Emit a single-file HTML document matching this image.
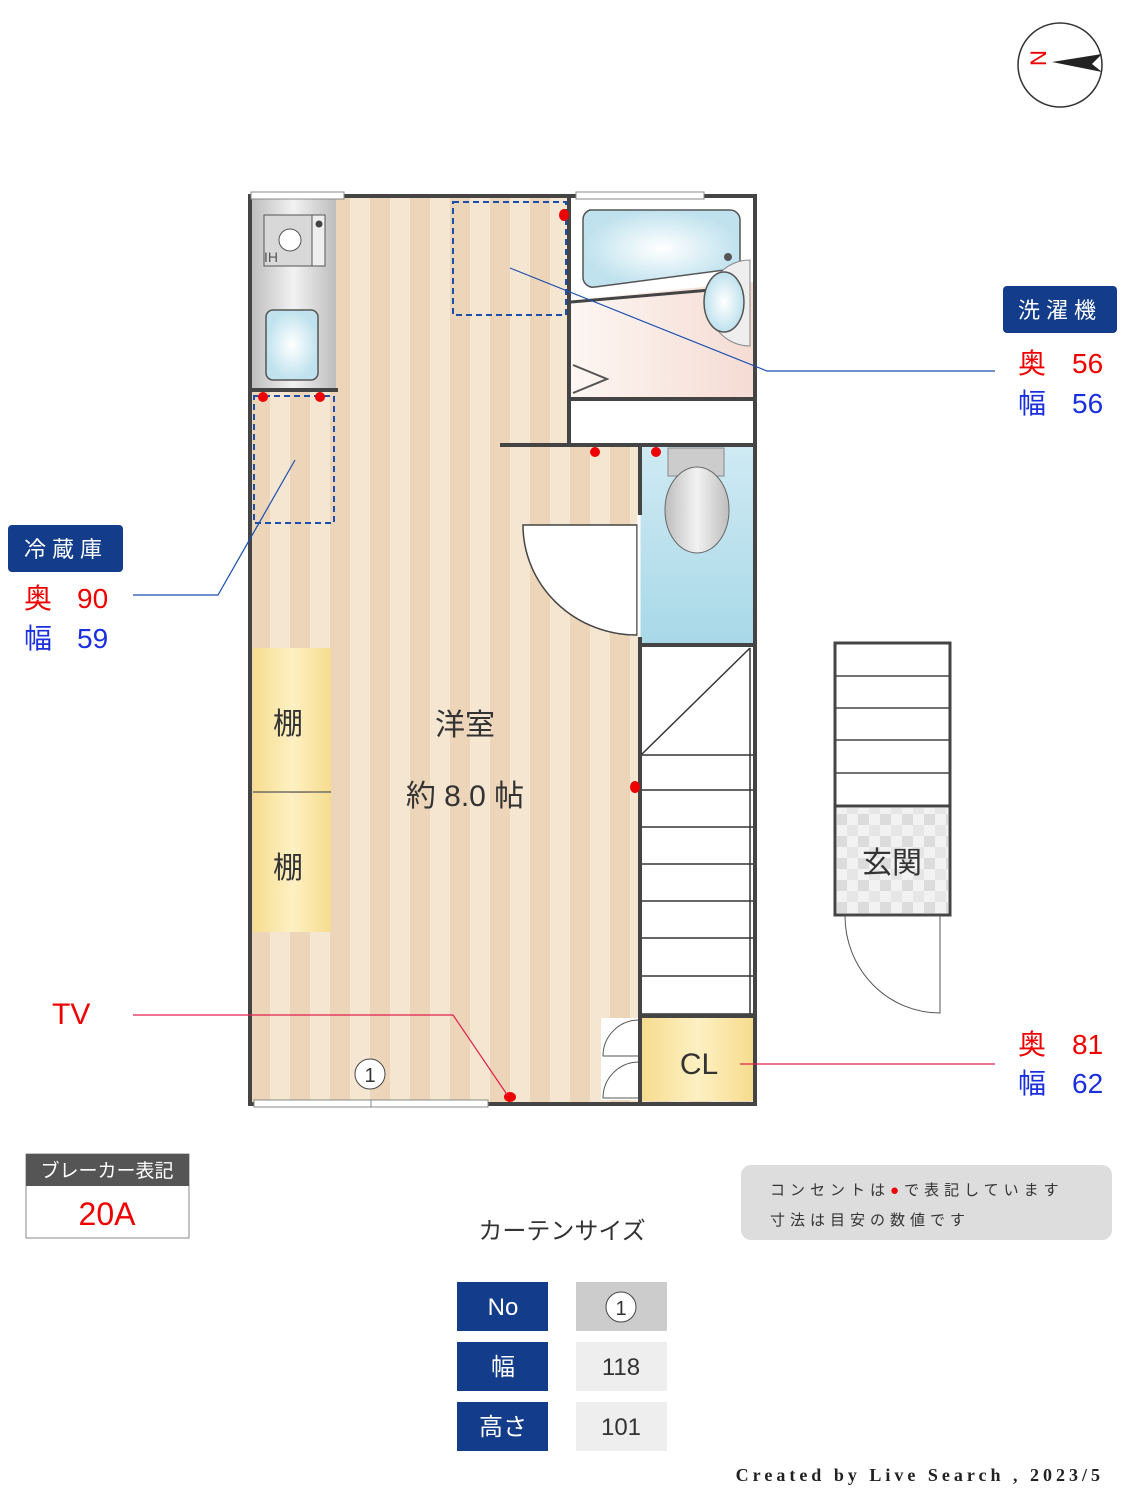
<!DOCTYPE html>
<html><head><meta charset="utf-8"><style>
body{margin:0;background:#fff;}
svg text{font-family:"Liberation Sans","Noto Sans CJK JP",sans-serif;}
</style></head><body>
<svg width="1125" height="1500" viewBox="0 0 1125 1500" xmlns="http://www.w3.org/2000/svg">
<defs>
<pattern id="st" x="10" y="0" width="40" height="10" patternUnits="userSpaceOnUse">
<rect width="40" height="10" fill="#f4e6d0"/><rect x="0" width="20" height="10" fill="#ecd5b8"/>
</pattern>
<linearGradient id="steel" x1="0" x2="1"><stop offset="0" stop-color="#bdbdbd"/><stop offset="0.5" stop-color="#f2f2f2"/><stop offset="1" stop-color="#bdbdbd"/></linearGradient>
<radialGradient id="blue"><stop offset="0" stop-color="#ffffff"/><stop offset="1" stop-color="#bfe2ee"/></radialGradient>
<linearGradient id="yel" x1="0" x2="1"><stop offset="0" stop-color="#f6dc8e"/><stop offset="0.5" stop-color="#fdf0c2"/><stop offset="1" stop-color="#f6dc8e"/></linearGradient>
<linearGradient id="pink" x1="0" x2="1"><stop offset="0" stop-color="#fdf6f2"/><stop offset="1" stop-color="#f5dcd4"/></linearGradient>
<linearGradient id="wc" x1="0" x2="0" y1="0" y2="1"><stop offset="0" stop-color="#cfeaf3"/><stop offset="1" stop-color="#a8d8e8"/></linearGradient>
<pattern id="tile" width="22" height="22" patternUnits="userSpaceOnUse"><rect width="22" height="22" fill="#f2f2f2"/><rect width="11" height="11" fill="#dcdcdc"/><rect x="11" y="11" width="11" height="11" fill="#e6e6e6"/></pattern>
</defs>

<!-- compass -->
<circle cx="1060" cy="65" r="42" fill="#fff" stroke="#333" stroke-width="1.5"/>
<polygon points="1052,62 1102,54 1092,64 1102,72" fill="#222"/>
<text x="1038" y="74" font-size="22" fill="#e00" transform="rotate(-90 1038 66)">N</text>

<!-- floor -->
<rect x="250" y="196" width="505" height="908" fill="url(#st)"/>
<!-- kitchen -->
<rect x="251" y="198" width="85" height="192" fill="url(#steel)"/>
<rect x="264" y="215" width="50" height="51" fill="#d8d8d8" stroke="#555"/>
<rect x="312" y="215" width="13" height="51" fill="#eee" stroke="#555"/>
<circle cx="319" cy="224" r="3.5" fill="#444"/>
<circle cx="290" cy="240" r="11" fill="#fff" stroke="#555"/>
<text x="264" y="262" font-size="14" fill="#555" font-family="Liberation Serif">IH</text>
<rect x="266" y="310" width="52" height="70" rx="7" fill="url(#blue)" stroke="#555" stroke-width="1.5"/>
<!-- bathroom -->
<rect x="571" y="198" width="182" height="200" fill="#fff"/>
<polygon points="571,300 753,282 753,398 571,398" fill="url(#pink)"/>
<path d="M590,210 H730 a10,10 0 0 1 10,10 V268 L595,287 a10,10 0 0 1 -12,-10 V220 a10,10 0 0 1 7,-10z" fill="url(#blue)" stroke="#555" stroke-width="1.5"/>
<circle cx="728" cy="257" r="4" fill="#555"/>
<line x1="571" y1="302" x2="745" y2="287" stroke="#444" stroke-width="3"/>
<path d="M750,260 a42,43 0 0 0 0,86 z" fill="#eee" stroke="#888"/>
<ellipse cx="724" cy="302" rx="20" ry="30" fill="url(#blue)" stroke="#555" stroke-width="1.5"/>
<polyline points="573,365 607,379 573,393" fill="none" stroke="#555" stroke-width="2"/>
<rect x="571" y="398" width="182" height="46" fill="#fff"/>
<!-- toilet -->
<rect x="640" y="447" width="113" height="198" fill="url(#wc)"/>
<rect x="668" y="448" width="56" height="28" fill="#ccc" stroke="#888"/>
<ellipse cx="697" cy="510" rx="32" ry="43" fill="url(#steel)" stroke="#666"/>
<!-- stairs area -->
<rect x="641" y="645" width="112" height="372" fill="#fff"/>
<g stroke="#333" stroke-width="1.5">
<line x1="641" y1="755" x2="750" y2="648"/>
<line x1="641" y1="755" x2="753" y2="755"/>
<line x1="641" y1="790" x2="753" y2="790"/>
<line x1="641" y1="827" x2="753" y2="827"/>
<line x1="641" y1="864" x2="753" y2="864"/>
<line x1="641" y1="901" x2="753" y2="901"/>
<line x1="641" y1="938" x2="753" y2="938"/>
<line x1="641" y1="976" x2="753" y2="976"/>
<line x1="641" y1="1014" x2="753" y2="1014"/>
<line x1="750" y1="648" x2="750" y2="1014"/>
</g>
<!-- CL -->
<rect x="642" y="1018" width="111" height="83" fill="url(#yel)"/>
<text x="699" y="1074" font-size="30" fill="#333" text-anchor="middle">CL</text>
<rect x="601" y="1018" width="38" height="82" fill="#fff"/>
<path d="M639,1020 a36,36 0 0 0 -36,36 H639 M639,1062 a36,36 0 0 0 -36,36 H639" fill="#fff" stroke="#555"/>
<!-- shelves -->
<rect x="253" y="648" width="78" height="144" fill="url(#yel)"/>
<rect x="253" y="793" width="78" height="139" fill="url(#yel)"/>
<line x1="253" y1="792" x2="331" y2="792" stroke="#333"/>
<text x="288" y="734" font-size="30" fill="#333" text-anchor="middle">棚</text>
<text x="288" y="878" font-size="30" fill="#333" text-anchor="middle">棚</text>
<!-- door arc -->
<path d="M637,525 H523 a114,110 0 0 0 114,110 z" fill="#fff" stroke="#444" stroke-width="1.5"/>
<line x1="639" y1="515" x2="639" y2="637" stroke="#fff" stroke-width="3"/>
<!-- walls -->
<g fill="none" stroke="#444" stroke-width="4">
<rect x="250" y="196" width="505" height="908"/>
<line x1="569" y1="196" x2="569" y2="445"/>
<line x1="250" y1="390" x2="338" y2="390"/>
<line x1="569" y1="399" x2="755" y2="399"/>
<line x1="500" y1="445" x2="755" y2="445"/>
<line x1="640" y1="445" x2="640" y2="515"/>
<line x1="640" y1="637" x2="640" y2="1104"/>
<line x1="640" y1="645" x2="755" y2="645"/>
<line x1="640" y1="1016" x2="755" y2="1016"/>
</g>
<!-- windows -->
<rect x="251" y="192" width="93" height="7" fill="#fff" stroke="#888"/>
<rect x="576" y="192" width="128" height="7" fill="#fff" stroke="#888"/>
<rect x="254" y="1100" width="117" height="7" fill="#fff" stroke="#888"/>
<rect x="371" y="1100" width="117" height="7" fill="#fff" stroke="#888"/>
<circle cx="370" cy="1074" r="15" fill="#fff" stroke="#444"/>
<text x="370" y="1082" font-size="20" fill="#333" text-anchor="middle">1</text>
<!-- dashed boxes -->
<rect x="453" y="202" width="113" height="113" fill="none" stroke="#1a4fb0" stroke-width="2" stroke-dasharray="6,4"/>
<rect x="254" y="396" width="80" height="127" fill="none" stroke="#1a4fb0" stroke-width="2" stroke-dasharray="6,4"/>
<!-- outlets -->
<g fill="#e00">
<ellipse cx="564" cy="215" rx="5" ry="6"/><ellipse cx="263" cy="397" rx="5" ry="5"/><ellipse cx="320" cy="397" rx="5" ry="5"/>
<ellipse cx="595" cy="452" rx="5" ry="5"/><ellipse cx="656" cy="452" rx="5" ry="5"/><ellipse cx="635" cy="787" rx="5" ry="6"/><ellipse cx="510" cy="1097" rx="6" ry="5"/>
</g>
<!-- room text -->
<text x="465" y="735" font-size="30" fill="#333" text-anchor="middle">洋室</text>
<text x="465" y="806" font-size="30" fill="#333" text-anchor="middle">約 8.0 帖</text>
<!-- entrance -->
<rect x="835" y="643" width="115" height="272" fill="#fff" stroke="#444" stroke-width="3"/>
<g stroke="#444" stroke-width="1.5"><line x1="835" y1="676" x2="950" y2="676"/><line x1="835" y1="708" x2="950" y2="708"/><line x1="835" y1="740" x2="950" y2="740"/><line x1="835" y1="773" x2="950" y2="773"/></g>
<line x1="835" y1="806" x2="950" y2="806" stroke="#444" stroke-width="3"/>
<rect x="837" y="808" width="111" height="105" fill="url(#tile)"/>
<text x="892" y="873" font-size="30" fill="#333" text-anchor="middle">玄関</text>
<path d="M940,916 V1013 a95,97 0 0 1 -95,-97z" fill="#fff" stroke="#555"/>
<!-- leader lines -->
<polyline points="510,268 767,371 995,371" fill="none" stroke="#1a4fb0" stroke-width="1.2"/>
<polyline points="295,460 218,595 133,595" fill="none" stroke="#1a4fb0" stroke-width="1.2"/>
<polyline points="133,1015 453,1015 508,1096" fill="none" stroke="#e0204a" stroke-width="1.2"/>
<line x1="740" y1="1064" x2="995" y2="1064" stroke="#e0204a" stroke-width="1.2"/>
<!-- labels -->
<rect x="1003" y="286" width="114" height="47" rx="4" fill="#133d8a"/>
<text x="1060" y="318" font-size="22" fill="#fff" text-anchor="middle" letter-spacing="6">洗濯機</text>
<text x="1018" y="373" font-size="28" fill="#e00">奥</text><text x="1072" y="373" font-size="28" fill="#e00">56</text>
<text x="1018" y="413" font-size="28" fill="#1a2fe0">幅</text><text x="1072" y="413" font-size="28" fill="#1a2fe0">56</text>
<rect x="8" y="525" width="115" height="47" rx="4" fill="#133d8a"/>
<text x="66" y="557" font-size="22" fill="#fff" text-anchor="middle" letter-spacing="6">冷蔵庫</text>
<text x="24" y="608" font-size="28" fill="#e00">奥</text><text x="77" y="608" font-size="28" fill="#e00">90</text>
<text x="24" y="648" font-size="28" fill="#1a2fe0">幅</text><text x="77" y="648" font-size="28" fill="#1a2fe0">59</text>
<text x="52" y="1024" font-size="30" fill="#e00">TV</text>
<text x="1018" y="1054" font-size="28" fill="#e00">奥</text><text x="1072" y="1054" font-size="28" fill="#e00">81</text>
<text x="1018" y="1093" font-size="28" fill="#1a2fe0">幅</text><text x="1072" y="1093" font-size="28" fill="#1a2fe0">62</text>
<!-- breaker -->
<rect x="26" y="1154" width="163" height="84" fill="#fff" stroke="#888"/>
<rect x="26" y="1154" width="163" height="32" fill="#555"/>
<text x="107" y="1177" font-size="19" fill="#fff" text-anchor="middle">ブレーカー表記</text>
<text x="107" y="1225" font-size="32" fill="#e00" text-anchor="middle">20A</text>
<!-- note -->
<rect x="741" y="1165" width="371" height="75" rx="10" fill="#ddd"/>
<text x="770" y="1195" font-size="15" fill="#333" letter-spacing="5">コンセントは<tspan fill="#e00">●</tspan>で表記しています</text>
<text x="770" y="1225" font-size="15" fill="#333" letter-spacing="5">寸法は目安の数値です</text>
<!-- curtain -->
<text x="562" y="1239" font-size="24" fill="#333" text-anchor="middle">カーテンサイズ</text>
<rect x="457" y="1282" width="91" height="49" fill="#133d8a"/><text x="503" y="1315" font-size="24" fill="#fff" text-anchor="middle">No</text>
<rect x="457" y="1342" width="91" height="49" fill="#133d8a"/><text x="503" y="1375" font-size="24" fill="#fff" text-anchor="middle">幅</text>
<rect x="457" y="1402" width="91" height="49" fill="#133d8a"/><text x="503" y="1435" font-size="24" fill="#fff" text-anchor="middle">高さ</text>
<rect x="576" y="1282" width="91" height="49" fill="#ccc"/><circle cx="621" cy="1307" r="15" fill="#fff" stroke="#444"/><text x="621" y="1315" font-size="20" fill="#333" text-anchor="middle">1</text>
<rect x="576" y="1342" width="91" height="49" fill="#eee"/><text x="621" y="1375" font-size="24" fill="#333" text-anchor="middle">118</text>
<rect x="576" y="1402" width="91" height="49" fill="#eee"/><text x="621" y="1435" font-size="24" fill="#333" text-anchor="middle">101</text>
<text x="1104" y="1481" font-size="18" fill="#222" text-anchor="end" letter-spacing="4" font-weight="bold" style="font-family:'Liberation Serif',serif">Created by Live Search , 2023/5</text>
</svg>
</body></html>
